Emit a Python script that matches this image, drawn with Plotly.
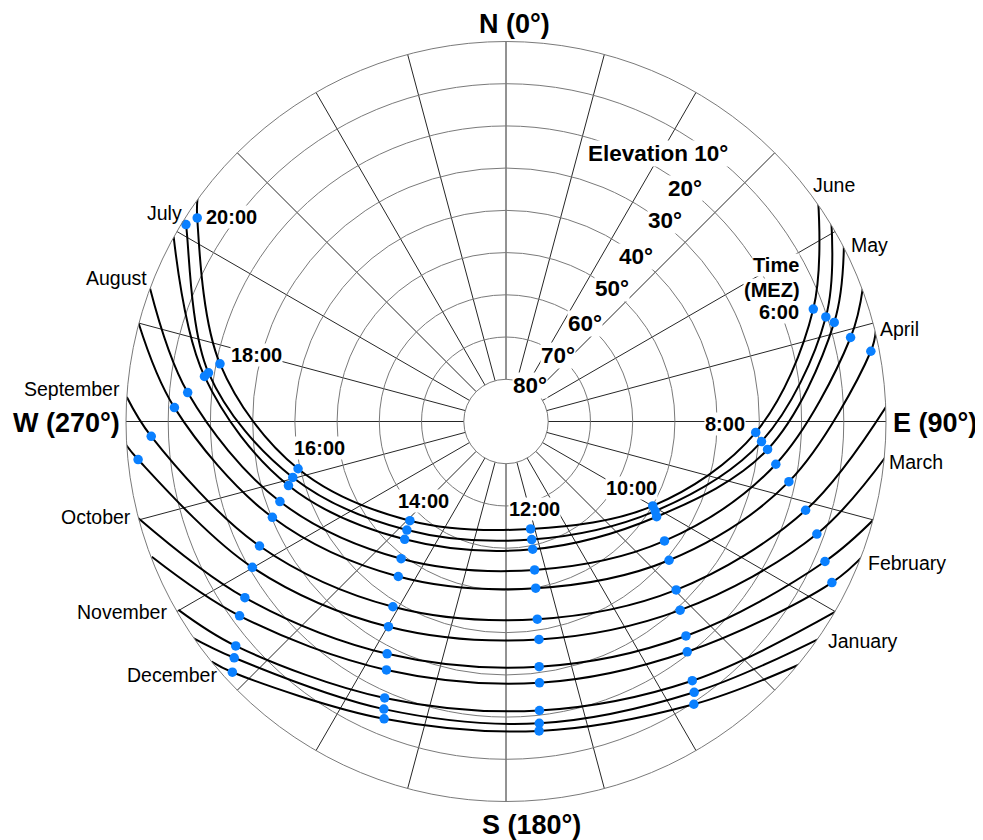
import plotly.graph_objects as go

# Sun path diagram: azimuth (deg, clockwise from north) and elevation (deg)
# Points of each month's path: sunrise end, full even hours (MEZ), sunset end (hour None)
month_names = ["June", "July", "May", "August", "April", "September",
               "March", "October", "February", "November", "January", "December"]

jun_az = [54.4, 69.9, 92.5, 119.9, 167.1, 224.1, 257.2, 281.4, 303.4, 305.9]
jun_el = [-0.9, 12.5, 30.8, 49.9, 63.9, 57.3, 39.5, 20.9, 2.4, -0.2]
jun_hr = [None, 6, 8, 10, 12, 14, 16, 18, 20, None]

jul_az = [57.8, 71.9, 94.5, 121.0, 167.7, 222.4, 255.3, 279.3, 301.6, 302.1]
jul_el = [-1.0, 10.3, 29.3, 48.8, 61.4, 55.2, 37.8, 18.6, 1.0, 0.2]
jul_hr = [None, 6, 8, 10, 12, 14, 16, 18, 20, None]

may_az = [62.3, 73.2, 96.1, 122.3, 168.2, 220.7, 253.6, 278.5, 299.1]
may_el = [-0.4, 8.8, 27.7, 47.8, 59.1, 53.2, 36.3, 17.8, -0.1]
may_hr = [None, 6, 8, 10, 12, 14, 16, 18, None]

aug_az = [69.3, 76.3, 99.0, 127.0, 169.1, 217.4, 250.5, 275.2, 290.5]
aug_el = [-0.4, 6.0, 25.3, 43.0, 54.2, 49.1, 33.2, 14.3, 0.0]
aug_hr = [None, 6, 8, 10, 12, 14, 16, 18, None]

apr_az = [76.2, 79.1, 102.0, 130.4, 169.9, 214.8, 247.7, 272.4, 285.0]
apr_el = [-0.2, 2.0, 21.5, 39.3, 49.9, 45.3, 30.2, 11.4, -0.1]
apr_hr = [None, 6, 8, 10, 12, 14, 16, 18, None]

sep_az = [87.3, 106.5, 134.7, 171.0, 211.4, 243.2, 267.6, 273.7]
sep_el = [-0.6, 16.0, 33.3, 42.6, 38.6, 24.6, 5.9, 0.0]
sep_hr = [None, 8, 10, 12, 14, 16, 18, None]

mar_az = [94.5, 109.9, 137.3, 171.4, 209.8, 240.1, 264.1, 266.7]
mar_el = [-1.1, 11.7, 29.2, 37.8, 34.0, 20.7, 2.4, -0.4]
mar_hr = [None, 8, 10, 12, 14, 16, 18, None]

oct_az = [104.0, 113.7, 140.0, 172.3, 207.1, 236.0, 255.5]
oct_el = [-1.0, 7.5, 23.7, 31.4, 28.2, 15.4, -0.3]
oct_hr = [None, 8, 10, 12, 14, 16, None]

feb_az = [110.1, 116.3, 141.8, 172.7, 205.7, 233.9, 249.1]
feb_el = [-0.7, 3.9, 20.6, 27.6, 24.7, 11.9, 0.2]
feb_hr = [None, 8, 10, 12, 14, 16, None]

nov_az = [119.8, 144.3, 173.4, 203.7, 230.3, 240.1]
nov_el = [-0.3, 14.4, 21.1, 18.5, 6.8, 0.5]
nov_hr = [8, 10, 12, 14, 16, None]

jan_az = [123.9, 145.2, 173.7, 203.0, 229.0, 235.8]
jan_el = [-1.0, 11.9, 18.1, 16.0, 4.7, -0.5]
jan_hr = [None, 10, 12, 14, 16, None]

dec_az = [129.3, 146.4, 173.9, 202.3, 227.5, 230.8]
dec_el = [-0.5, 9.6, 16.3, 13.9, 2.1, 0.0]
dec_hr = [None, 10, 12, 14, 16, None]

elevation_ticks = [10, 20, 30, 40, 50, 60, 70, 80]
hour_labels = ["6:00", "8:00", "10:00", "12:00", "14:00", "16:00", "18:00", "20:00"]

paths = [(jun_az, jun_el, jun_hr), (jul_az, jul_el, jul_hr), (may_az, may_el, may_hr),
         (aug_az, aug_el, aug_hr), (apr_az, apr_el, apr_hr), (sep_az, sep_el, sep_hr),
         (mar_az, mar_el, mar_hr), (oct_az, oct_el, oct_hr), (feb_az, feb_el, feb_hr),
         (nov_az, nov_el, nov_hr), (jan_az, jan_el, jan_hr), (dec_az, dec_el, dec_hr)]

FONT = "Liberation Sans, Arial, sans-serif"
OFF = 8                      # page body margin of the html page
W, H = 983 - OFF, 840 - OFF  # figure size so the page ends at the window edge

fig = go.Figure()
for name, (az, el, hr) in zip(month_names, paths):
    fig.add_trace(go.Scatterpolar(
        r=[90 - e for e in el], theta=az, mode="lines", name=name,
        line=dict(color="black", width=2, shape="spline", smoothing=1),
        cliponaxis=False, hoverinfo="skip"))
for name, (az, el, hr) in zip(month_names, paths):
    fig.add_trace(go.Scatterpolar(
        r=[90 - e for e, h in zip(el, hr) if h is not None],
        theta=[a for a, h in zip(az, hr) if h is not None],
        text=[f"{h}:00" for h in hr if h is not None],
        mode="markers", name=name + " hours",
        marker=dict(color="#0A80FF", size=9.5, line=dict(width=0)),
        cliponaxis=False, hoverinfo="text"))

annotations = []
def label(text, x, y, size, bold=False, bg=True, xanchor="center"):
    # x, y: label position in window pixels
    annotations.append(dict(
        text=f"<b>{text}</b>" if bold else text,
        x=(x - OFF) / W, y=1 - (y - OFF) / H, xref="paper", yref="paper",
        xanchor=xanchor, yanchor="middle", showarrow=False,
        font=dict(family=FONT, size=size, color="black"),
        bgcolor="white" if bg else None, borderpad=0))

# compass
label("N (0°)", 514, 24, 27, bold=True, bg=False)
label("S (180°)", 531, 825, 27, bold=True, bg=False)
label("E (90°)", 935, 423, 27, bold=True, bg=False)
label("W (270°)", 66, 423, 27, bold=True, bg=False)

# elevation circles
elev_pos = [(657.5, 154), (685, 188.5), (665, 220), (636, 256.5),
            (611.7, 288.5), (585, 323.5), (557.5, 355), (530, 385.5)]
for e, (x, y) in zip(elevation_ticks, elev_pos):
    txt = f"Elevation {e}°" if e == 10 else f"{e}°"
    label(txt, x, y, 22.5, bold=True)

# hour labels
hour_pos = [(799.5, 312.5), (725, 424), (631.7, 487.5), (534.5, 509),
            (423, 500.5), (319, 448), (256, 355), (231.5, 217.5)]
for t, (x, y) in zip(hour_labels, hour_pos):
    if t == "6:00":
        label(t, x, y, 20, bold=True, xanchor="right")
    else:
        label(t, x, y, 20, bold=True)
label("Time", 799.5, 265, 20, bold=True, xanchor="right")
label("(MEZ)", 800.5, 290, 20, bold=True, xanchor="right")

# month labels
month_pos = {"June": (834, 185), "May": (869, 245), "April": (899, 329), "March": (916, 462),
             "February": (907, 563), "January": (863, 641), "July": (164, 213),
             "August": (116, 278), "September": (72, 389), "October": (96, 517),
             "November": (122, 612), "December": (172, 675)}
for m in month_names:
    x, y = month_pos[m]
    label(m, x, y, 19.5, bg=False)

R_PX = 380
CX, CY = 506 - OFF, 421.5 - OFF
fig.update_layout(
    width=W, height=H, margin=dict(l=0, r=0, t=0, b=0),
    paper_bgcolor="white", plot_bgcolor="white", showlegend=False,
    annotations=annotations,
    polar=dict(
        domain=dict(x=[(CX - R_PX) / W, (CX + R_PX) / W],
                    y=[1 - (CY + R_PX) / H, 1 - (CY - R_PX) / H]),
        hole=1 / 9, bgcolor="white",
        radialaxis=dict(range=[9.99, 90], tickvals=[90 - e for e in elevation_ticks],
                        showticklabels=False, ticks="", showline=False,
                        gridcolor="#7a7a7a", gridwidth=1),
        angularaxis=dict(rotation=90, direction="clockwise", tickmode="linear", tick0=0, dtick=15,
                         showticklabels=False, ticks="", showline=True, linecolor="#7a7a7a",
                         linewidth=1, gridcolor="#262626", gridwidth=1),
    ),
)
fig.write_html("out.html")
